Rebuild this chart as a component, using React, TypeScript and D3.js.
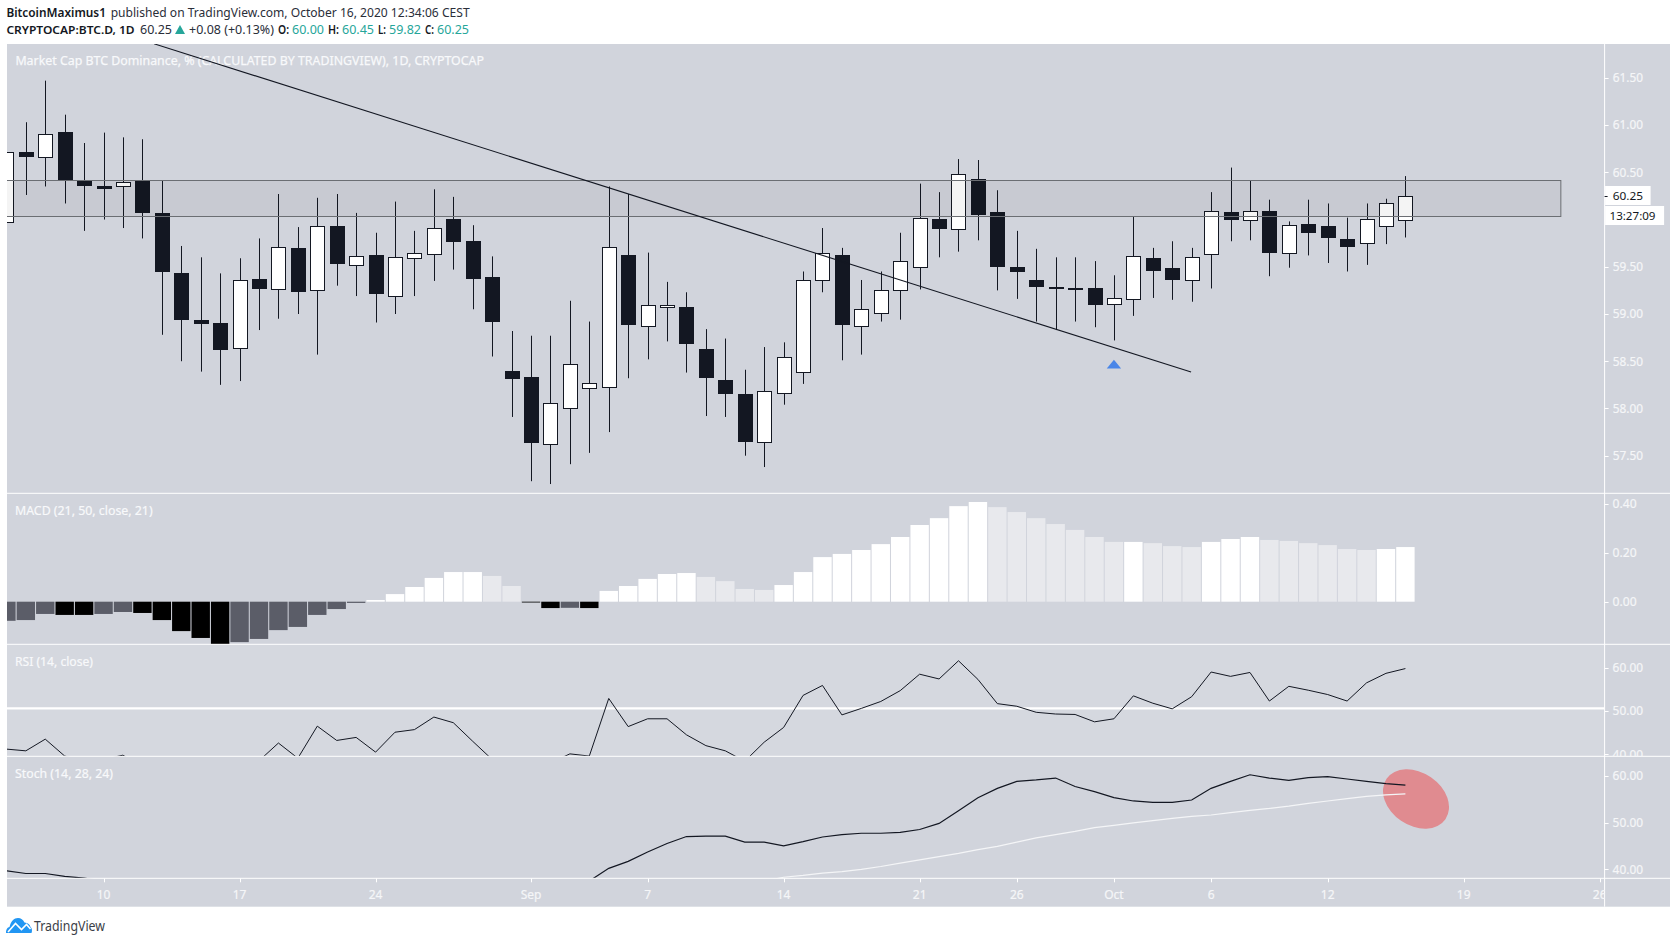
import React from "react";
import * as d3 from "d3";

// ---------- data. Index 0 = Aug 5, 2020; one entry per day up to Oct 16.
const opens = [59.97,60.71,60.66,60.93,60.41,60.35,60.35,60.41,60.07,59.43,58.94,58.91,58.64,59.37,59.26,59.70,59.25,59.93,59.52,59.62,59.19,59.59,59.63,60.01,59.77,59.39,58.40,58.33,57.62,
  58.01,58.22,58.23,59.62,58.87,59.07,59.07,58.63,58.30,58.15,57.64,58.16,58.39,59.36,59.62,58.87,59.01,59.25,59.50,60.01,59.90,60.43,60.08,59.50,59.36,59.29,59.26,59.28,
  59.11,59.16,59.59,59.49,59.36,59.64,60.08,59.99,60.09,59.65,59.95,59.93,59.79,59.75,59.93,60.00];
const closes = [60.72,60.67,60.91,60.43,60.37,60.33,60.40,60.08,59.45,58.95,58.91,58.63,59.36,59.27,59.71,59.24,59.93,59.54,59.61,59.22,59.60,59.65,59.91,59.77,59.38,58.93,58.32,57.65,58.06,
  58.47,58.27,59.71,58.89,59.10,59.10,58.69,58.33,58.16,57.66,58.18,58.54,59.36,59.65,58.89,59.05,59.25,59.56,60.02,59.91,60.48,60.06,59.51,59.45,59.30,59.27,59.27,59.11,
  59.17,59.61,59.47,59.37,59.60,60.09,60.01,60.09,59.66,59.94,59.87,59.82,59.72,60.01,60.18,60.25];
const highs = [60.72,61.03,61.47,61.11,60.81,60.92,60.87,60.85,60.41,59.72,59.60,59.43,59.59,59.80,60.27,59.92,60.23,60.27,60.07,59.86,60.19,59.88,60.32,60.24,59.94,59.61,58.82,58.77,58.77,
  59.14,58.92,60.35,60.27,59.65,59.34,59.23,58.84,58.74,58.41,58.65,58.70,59.45,59.91,59.70,59.36,59.45,59.86,60.38,60.29,60.64,60.63,60.31,59.88,59.69,59.60,59.60,59.56,
  59.41,60.03,59.70,59.77,59.70,60.29,60.55,60.41,60.21,59.98,60.21,60.17,60.02,60.17,60.22,60.46];
const lows = [59.97,60.26,60.35,60.17,59.88,60.00,59.91,59.80,58.78,58.50,58.39,58.25,58.29,58.83,58.95,59.00,58.57,59.30,59.19,58.91,59.00,59.19,59.35,59.47,59.05,58.55,57.91,57.23,57.20,
  57.41,57.53,57.75,58.32,58.52,58.71,58.38,57.92,57.91,57.50,57.38,58.04,58.26,59.23,58.51,58.57,58.92,58.94,59.26,59.60,59.66,59.78,59.25,59.16,58.92,58.83,58.92,58.86,
  58.72,58.98,59.17,59.15,59.13,59.27,59.77,59.78,59.40,59.49,59.62,59.54,59.45,59.52,59.74,59.81];

const macdHist = [-0.078,-0.075,-0.05,-0.054,-0.054,-0.05,-0.042,-0.046,-0.075,-0.12,-0.148,-0.173,-0.165,-0.152,-0.116,-0.103,-0.054,-0.03,-0.005,0.007,0.031,0.06,0.097,0.121,0.121,0.105,0.064,
  -0.002,-0.026,-0.025,-0.026,0.044,0.064,0.093,0.113,0.117,0.101,0.084,0.052,0.048,0.068,0.121,0.182,0.195,0.211,0.235,0.264,0.313,0.341,0.39,0.407,0.386,0.366,0.341,0.317,0.293,0.264,
  0.244,0.244,0.239,0.227,0.223,0.244,0.256,0.264,0.252,0.248,0.239,0.231,0.215,0.211,0.215,0.223];
const macdFirstPrev = -0.08;

const rsi = [41.2,40.8,43.5,39.6,38.5,38.8,39.8,37,35,33,32,33,35,38.5,42.6,39.1,46.5,43.2,43.9,40.5,45.1,45.7,48.6,47.3,43,38.8,36,37,38,40.1,39.6,52.9,46.4,48.2,48.2,44.5,42,40.8,38.4,42.8,46.2,53.6,55.9,49.1,50.6,52.2,54.7,58.5,57.4,61.6,57.3,51.7,51.1,49.7,49.3,49.2,47.5,48.2,53.5,51.8,50.5,53.3,59,58,58.9,52.3,55.7,54.8,53.8,52.3,56.5,58.7,59.8];
const rsiBand = 50.6;

const stochK = [39.7,39.1,39.1,38.5,38.1,37.5,37,36,35,34,33,32,31,30,29,28,27,26,25,24,24,25,26,27,29,31,33,34,35,36,37.5,40.2,41.7,43.7,45.5,47,47.1,47.1,45.8,45.8,45,45.9,46.9,47.4,47.7,47.7,47.9,48.5,49.8,52.5,55.3,57.3,58.8,59.1,59.5,57.7,56.6,55.3,54.6,54.3,54.3,54.8,57.3,58.8,60.2,59.5,59,59.6,59.8,59.3,58.8,58.3,58];
const stochDStart = 38;
const stochD = [36.5,37.5,38.3,38.7,39.2,39.5,40,40.6,41.3,42,42.7,43.4,44.2,44.9,45.8,46.7,47.4,48.1,48.9,49.4,49.9,50.4,50.9,51.3,51.6,52.1,52.6,53,53.5,54.1,54.6,55.1,55.6,55.9,56.1];

const xTickIdx = [5,12,19,27,33,40,47,52,57,62,68,75,82];
const xTickLabels = ["10","17","24","Sep","7","14","21","26","Oct","6","12","19","26"];
const priceTicks = [61.5,61,60.5,59.5,59,58.5,58,57.5];
const macdTicks = [0.4,0.2,0];
const rsiTicks = [60,50,40];
const stochTicks = [60,50,40];
const bandPrices = [60.415,60.034];
const bandEndIdx = 80;
const trendIdx = [7.6,60.97];
const trendPrice = [61.86,58.386];
const lastPrice = 60.25;
const arrowIdx = 57;
const arrowPrice = 58.47;

// ---------- layout
const W = 1677, H = 944;
const L = 7, R = 1670, AX = 1604.6, TOP = 44, BOT = 906.7;
const P1B = 493.3, P2B = 644.3, P3B = 756.3, P4B = 878.3;

const x = d3.scaleLinear().domain([0, 72]).range([6.4, 1405.4]);
const yP = d3.scaleLinear().domain([57.5, 60.5]).range([455.7, 172.3]);
const yM = d3.scaleLinear().domain([0, 0.4]).range([601.7, 503.7]);
const yR = d3.scaleLinear().domain([40, 60]).range([754.3, 667.7]);
const yS = d3.scaleLinear().domain([40, 60]).range([869.3, 775.7]);

const rsiLine = d3.line<number>().x((_, i) => x(i)).y(d => yR(d));
const kLine = d3.line<number>().x((_, i) => x(i)).y(d => yS(d));
const dLine = d3.line<number>().x((_, i) => x(i + stochDStart)).y(d => yS(d));
const trendLine = d3.line<number>().x((_, i) => x(trendIdx[i])).y((_, i) => yP(trendPrice[i]));

const FONT = "'Noto Sans', sans-serif";
const INK = "#131722";
const AXC = "#f5f6f8";
const LABEL = "#f8f9fb";
const TEAL = "#26a69a";
const crisp = (v: number) => Math.round(v) + 0.5;

function histColor(i: number) {
  const v = macdHist[i];
  const prev = i > 0 ? macdHist[i - 1] : macdFirstPrev;
  if (v >= 0) return v >= prev ? "#ffffff" : "#e8e9ed";
  return v <= prev ? "#000000" : "#5b5d68";
}

function T(p: any) {
  const { x: tx, w, ...rest } = p;
  return <text x={tx} textLength={w} lengthAdjust="spacingAndGlyphs" fontFamily={FONT} {...rest} />;
}

export default function App() {
  return (
    <svg width={W} height={H} viewBox={`0 0 ${W} ${H}`} style={{ position: "absolute", left: 0, top: 0, display: "block", background: "#fff" }}>
      <defs>
        <clipPath id="c1"><rect x={L} y={TOP} width={AX - L} height={P1B - TOP} /></clipPath>
        <clipPath id="c2"><rect x={L} y={P1B} width={AX - L} height={P2B - P1B} /></clipPath>
        <clipPath id="c3"><rect x={L} y={P2B} width={AX - L} height={P3B - P2B} /></clipPath>
        <clipPath id="c4"><rect x={L} y={P3B} width={AX - L} height={P4B - P3B} /></clipPath>
        <clipPath id="ca3"><rect x={AX} y={P2B} width={R - AX} height={P3B - P2B} /></clipPath>
        <clipPath id="cx"><rect x={L} y={P4B} width={AX - L} height={BOT - P4B} /></clipPath>
      </defs>

      {/* header */}
      <T x={6.4} w={99.6} y={17} fontSize={12.5} fontWeight={600} fill={INK}>BitcoinMaximus1</T>
      <T x={110.7} w={358.9} y={17} fontSize={13} fill="#2a2e39">published on TradingView.com, October 16, 2020 12:34:06 CEST</T>
      <T x={6.4} w={128.2} y={33.5} fontSize={11.5} fontWeight={600} fill={INK}>CRYPTOCAP:BTC.D, 1D</T>
      <T x={140} w={32} y={33.5} fontSize={12.5} fill="#2a2e39">60.25</T>
      <path d="M175 34 L180 25 L185 34 Z" fill={TEAL} />
      <T x={189} w={85} y={33.5} fontSize={12.5} fill="#2a2e39">+0.08 (+0.13%)</T>
      {[["O:", 278, 11, "60.00", 292], ["H:", 328, 11, "60.45", 342], ["L:", 378, 8, "59.82", 389], ["C:", 425, 9, "60.25", 437]].map((d: any) => (
        <g key={d[0]}>
          <T x={d[1]} w={d[2]} y={33.5} fontSize={12.5} fontWeight={600} fill={INK}>{d[0]}</T>
          <T x={d[4]} w={32} y={33.5} fontSize={12.5} fill={TEAL}>{d[3]}</T>
        </g>
      ))}

      {/* backgrounds */}
      <rect x={L} y={TOP} width={R - L} height={BOT - TOP} fill="#d1d4dc" />
      <rect x={L} y={P2B} width={AX - L} height={P3B - P2B} fill="#d5d8df" />

      {/* main pane */}
      <g clipPath="url(#c1)">
        <T x={15.4} w={468.6} y={65} fontSize={12.5} fill={LABEL} stroke={LABEL} strokeWidth={0.25}>Market Cap BTC Dominance, % (CALCULATED BY TRADINGVIEW), 1D, CRYPTOCAP</T>
        {opens.map((o, i) => {
          const c = closes[i];
          const up = c >= o;
          const cx = crisp(x(i));
          const top = Math.round(yP(Math.max(o, c))) + 0.5;
          const bot = Math.max(Math.round(yP(Math.min(o, c))) + 0.5, top + 1);
          return (
            <g key={i}>
              <line x1={cx} x2={cx} y1={yP(highs[i])} y2={yP(lows[i])} stroke={INK} strokeWidth={1} />
              <rect x={cx - 7} y={top} width={14} height={bot - top} fill={up ? "#ffffff" : INK} stroke={INK} strokeWidth={1} />
            </g>
          );
        })}
        <rect x={L - 2} y={crisp(yP(bandPrices[0]))} width={x(bandEndIdx) - L + 2} height={crisp(yP(bandPrices[1])) - crisp(yP(bandPrices[0]))}
          fill="#000" fillOpacity={0.045} stroke="#6b6e73" strokeWidth={1} />
        <path d={trendLine(trendIdx) as string} fill="none" stroke={INK} strokeWidth={1.1} />
        <path transform={`translate(${x(arrowIdx)},${yP(arrowPrice)})`} d="M-7.2 4.4 L0 -4.4 L7.2 4.4 Z" fill="#4a86e8" />
      </g>

      {/* MACD */}
      <g clipPath="url(#c2)">
        {macdHist.map((v, i) => {
          const bx = x(i) - 9.2;
          const y0 = yM(0), y1 = yM(v);
          return <rect key={i} x={bx} width={18.4} y={Math.min(y0, y1)} height={Math.max(Math.abs(y0 - y1), 0.8)} fill={histColor(i)} />;
        })}
      </g>
      <T x={15} w={137.6} y={515} fontSize={12.5} fill={LABEL} stroke={LABEL} strokeWidth={0.2}>MACD (21, 50, close, 21)</T>

      {/* RSI */}
      <g clipPath="url(#c3)">
        <line x1={L} x2={AX} y1={yR(rsiBand)} y2={yR(rsiBand)} stroke="#fff" strokeWidth={2.4} />
        <path d={rsiLine(rsi) as string} fill="none" stroke={INK} strokeWidth={1} />
      </g>
      <T x={15} w={78} y={666} fontSize={12.5} fill={LABEL} stroke={LABEL} strokeWidth={0.2}>RSI (14, close)</T>

      {/* Stoch */}
      <g clipPath="url(#c4)">
        <ellipse cx={0} cy={0} rx={35.7} ry={26.4} fill="#e08b90" transform="translate(1416,799) rotate(34.4)" />
        <path d={dLine(stochD) as string} fill="none" stroke="#f4f5f7" strokeWidth={1.2} />
        <path d={kLine(stochK) as string} fill="none" stroke={INK} strokeWidth={1.2} />
      </g>
      <T x={15} w={98} y={778} fontSize={12.5} fill={LABEL} stroke={LABEL} strokeWidth={0.2}>Stoch (14, 28, 24)</T>

      {/* separators & axis */}
      {[P1B, P2B, P3B, P4B].map(v => (
        <line key={v} x1={L} x2={R} y1={v} y2={v} stroke="#fff" strokeWidth={1} />
      ))}
      <line x1={AX} x2={AX} y1={TOP} y2={BOT} stroke="#fff" strokeWidth={1} />

      {priceTicks.map(p => (
        <g key={p}>
          <line x1={AX} x2={AX + 4} y1={crisp(yP(p))} y2={crisp(yP(p))} stroke="#fff" />
          <T x={1612.7} w={30.3} y={yP(p) + 4.4} fontSize={12} fill={AXC} stroke={AXC} strokeWidth={0.2}>{p.toFixed(2)}</T>
        </g>
      ))}
      {macdTicks.map(p => (
        <g key={p}>
          <line x1={AX} x2={AX + 4} y1={crisp(yM(p))} y2={crisp(yM(p))} stroke="#fff" />
          <T x={1612.6} w={24} y={yM(p) + 4.4} fontSize={12} fill={AXC} stroke={AXC} strokeWidth={0.2}>{p.toFixed(2)}</T>
        </g>
      ))}
      <g clipPath="url(#ca3)">
        {rsiTicks.map(p => (
          <g key={p}>
            <line x1={AX} x2={AX + 4} y1={crisp(yR(p))} y2={crisp(yR(p))} stroke="#fff" />
            <T x={1612.6} w={30.4} y={yR(p) + 4.4} fontSize={12} fill={AXC} stroke={AXC} strokeWidth={0.2}>{p.toFixed(2)}</T>
          </g>
        ))}
      </g>
      {stochTicks.map(p => (
        <g key={p}>
          <line x1={AX} x2={AX + 4} y1={crisp(yS(p))} y2={crisp(yS(p))} stroke="#fff" />
          <T x={1612.6} w={30.4} y={yS(p) + 4.4} fontSize={12} fill={AXC} stroke={AXC} strokeWidth={0.2}>{p.toFixed(2)}</T>
        </g>
      ))}

      {/* last price + countdown */}
      <rect x={AX + 0.5} y={186} width={45.5} height={19} fill="#fff" />
      <rect x={AX + 0.5} y={206} width={59} height={19} fill="#fff" />
      <line x1={AX} x2={AX + 3} y1={crisp(yP(lastPrice))} y2={crisp(yP(lastPrice))} stroke={INK} />
      <T x={1612.7} w={30.3} y={199.5} fontSize={11.5} fill={INK}>{lastPrice.toFixed(2)}</T>
      <T x={1609.5} w={46} y={220} fontSize={11.5} fill={INK}>13:27:09</T>

      {/* time axis */}
      <g clipPath="url(#cx)">
        {xTickIdx.map((idx, i) => (
          <g key={idx}>
            <line x1={crisp(x(idx))} x2={crisp(x(idx))} y1={P4B} y2={P4B + 4} stroke="#fff" />
            <text x={x(idx)} y={898.5} textAnchor="middle" fontFamily={FONT} fontSize={12} fill={AXC} stroke={AXC} strokeWidth={0.2}>{xTickLabels[i]}</text>
          </g>
        ))}
      </g>

      {/* logo */}
      <path d="M6 933 C6 929 7.5 927.5 9.5 927 C11 921 14 918 18 918 C21 918 23 919.5 24.5 922.5 C28 923 30 924.5 30.5 927 C32 928 32.5 931 31.5 933 Z" fill="#2196f3" />
      <path d="M8 932 L15.5 923.5 L21.5 929.5 L26.5 924.5 L30.5 929" fill="none" stroke="#fff" strokeWidth={1.6} />
      <T x={34} w={71} y={930.8} fontSize={14} fill="#3b3e47">TradingView</T>
    </svg>
  );
}
